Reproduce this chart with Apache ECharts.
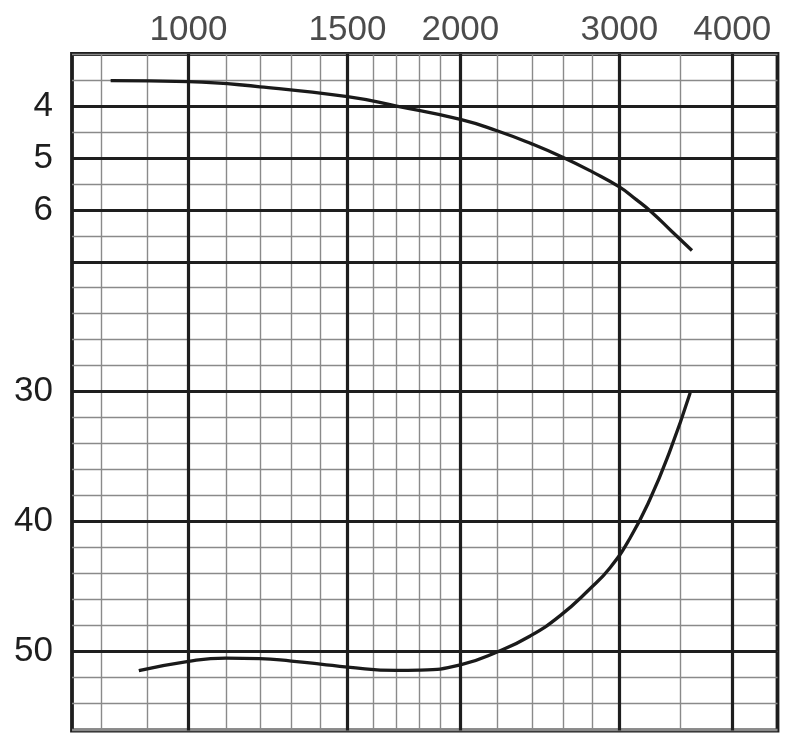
<!DOCTYPE html>
<html>
<head>
<meta charset="utf-8">
<script src="https://cdn.jsdelivr.net/npm/echarts@6/dist/echarts.min.js"></script>
<style>
html,body{margin:0;padding:0;background:#fff;}
#chart{width:800px;height:748px;}
</style>
</head>
<body>
<div id="chart"></div>
<script>
// X axis (log scale, rpm)
const xMajor = [1000, 1500, 2000, 3000, 4000];
const xMinor = [800, 900, 1100, 1200, 1300, 1400, 1600, 1700, 1800, 1900, 2200, 2400, 2600, 2800, 3500];
const xTickLabels = ['1000', '1500', '2000', '3000', '4000'];

// Upper scale (labels 4,5,6) and lower scale (labels 30,40,50)
const upperLabels = [4, 5, 6];
const upperMajor = [4, 5, 6, 7];
const lowerLabels = [30, 40, 50];
const lowerMajor = [30, 40, 50];

// Upper curve [rpm, value on upper scale]
const upperX = [820, 1000, 1200, 1500, 1700, 2000, 2200, 2400, 2600, 2800, 3000, 3130, 3260, 3430, 3610];
const upperY = [3.51, 3.53, 3.63, 3.82, 4.0, 4.256, 4.479, 4.727, 4.988, 5.265, 5.554, 5.794, 6.044, 6.41, 6.775];

// Lower curve [rpm, value on lower scale]
const lowerX = [881, 1000, 1100, 1200, 1300, 1400, 1500, 1700, 1800, 2000, 2210, 2390, 2580, 2780, 2930, 3080, 3240, 3410, 3594];
const lowerY = [51.49, 50.77, 50.52, 50.56, 50.75, 50.98, 51.22, 51.47, 51.45, 51.05, 49.97, 48.82, 47.25, 45.22, 43.56, 41.33, 38.37, 34.64, 30.08];

const thin = {color: '#8a8a8a', width: 1.4, type: 'solid'};
const thick = {color: '#1e1e1e', width: 3.2, type: 'solid'};
const fontFam = '"Liberation Sans", Arial, sans-serif';

const chart = echarts.init(document.getElementById('chart'), null, {renderer: 'canvas'});
chart.setOption({
  animation: false,
  backgroundColor: '#fff',
  grid: {left: 72, right: 22.5, top: 54, bottom: 17.5, show: true, borderColor: '#1e1e1e', borderWidth: 3.8, backgroundColor: 'transparent'},
  xAxis: {
    type: 'log', logBase: 10, min: 743, max: 4490, position: 'top',
    axisLine: {show: false}, axisTick: {show: false}, axisLabel: {show: false}, splitLine: {show: false}
  },
  yAxis: [
    {
      type: 'value', inverse: true, min: 3, max: 16, interval: 1, position: 'left',
      axisLine: {show: false}, axisTick: {show: false}, splitLine: {show: false},
      axisLabel: {margin: 19, fontSize: 35, color: '#1e1e1e', fontFamily: fontFam,
        formatter: v => upperLabels.indexOf(v) >= 0 ? String(v) : ''}
    },
    {
      type: 'value', inverse: true, min: 4, max: 56.1, interval: 2, position: 'left',
      axisLine: {show: false}, axisTick: {show: false},
      splitLine: {show: true, lineStyle: thin},
      axisLabel: {margin: 19, fontSize: 35, color: '#1e1e1e', fontFamily: fontFam,
        formatter: v => lowerLabels.indexOf(v) >= 0 ? String(v) : ''}
    }
  ],
  series: [
    {
      type: 'line', name: 'gridX', xAxisIndex: 0, yAxisIndex: 0, data: [], z: 1,
      markLine: {silent: true, symbol: 'none', label: {show: false}, animation: false,
        data: xMinor.map(v => ({xAxis: v, lineStyle: thin})).concat(xMajor.map(v => ({xAxis: v, lineStyle: thick})))}
    },
    {
      type: 'line', name: 'gridUpper', yAxisIndex: 0, data: [], z: 2,
      markLine: {silent: true, symbol: 'none', label: {show: false}, animation: false,
        data: upperMajor.map(v => ({yAxis: v, lineStyle: thick}))}
    },
    {
      type: 'line', name: 'gridLower', yAxisIndex: 1, data: [], z: 2,
      markLine: {silent: true, symbol: 'none', label: {show: false}, animation: false,
        data: lowerMajor.map(v => ({yAxis: v, lineStyle: thick}))}
    },
    {
      type: 'scatter', name: 'xLabels', yAxisIndex: 0, symbolSize: 0, z: 5, silent: true,
      data: xMajor.map((v, i) => ({value: [v, 3], label: {formatter: xTickLabels[i]}})),
      label: {show: true, position: 'top', distance: 6, fontSize: 35, color: '#1e1e1e', fontFamily: fontFam}
    },
    {
      type: 'line', name: 'upper', yAxisIndex: 0, z: 10, smooth: 0.5, showSymbol: false, clip: false,
      lineStyle: {color: '#1a1a1a', width: 3.3},
      data: upperX.map((x, i) => [x, upperY[i]])
    },
    {
      type: 'line', name: 'lower', yAxisIndex: 1, z: 10, smooth: 0.5, showSymbol: false, clip: false,
      lineStyle: {color: '#1a1a1a', width: 3.3},
      data: lowerX.map((x, i) => [x, lowerY[i]])
    }
  ]
});
</script>
</body>
</html>
